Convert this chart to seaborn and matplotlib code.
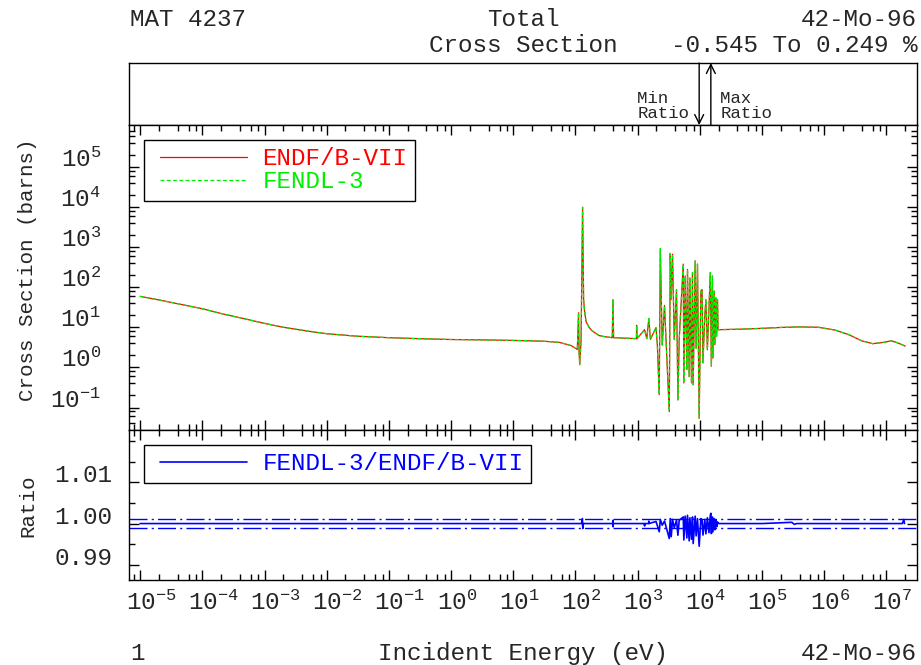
import numpy as np
import pandas as pd
import matplotlib
matplotlib.use("Agg")
import matplotlib.pyplot as plt
import matplotlib.ticker as mticker
import matplotlib.transforms as mtransforms
import seaborn as sns

# values (energy in eV, cross section in barns)
energy = [1e-5, 2e-5, 5e-5, 1e-4, 2e-4, 5e-4, 1e-3, 2e-3, 5e-3, 1e-2, 3e-2,
          0.1, 0.3, 1.0, 3.0, 10.0, 30.0, 55.0, 85.0, 107.0, 112.0, 114.0,
          117.0, 123.0, 130.0, 135.0, 140.0, 148.0, 165.0, 182.0, 240.0, 300.0,
          390.0, 400.0, 410.0, 955.0, 960.0, 975.0, 1290.0, 1400.0, 1510.0,
          1600.0, 1970.0, 2070.0, 2220.0, 2310.0, 2480.0, 2700.0, 2880.0,
          3220.0, 3340.0, 3460.0, 3630.0, 3870.0, 4210.0, 4430.0, 4650.0,
          5400.0, 5520.0, 5800.0, 6180.0, 6320.0, 6730.0, 6910.0, 7330.0,
          7600.0, 7800.0, 8400.0, 8700.0, 9150.0, 9740.0, 10370.0, 10850.0,
          11200.0, 12000.0, 12500.0, 13200.0, 14000.0, 14700.0, 15300.0,
          15900.0, 16200.0, 17000.0, 17400.0, 18100.0, 18600.0, 19200.0,
          19600.0, 2e4, 5e4, 1e5, 2e5, 4e5, 8e5, 1.5e6, 2.5e6, 4e6, 6e6,
          9e6, 1.2e7, 1.5e7, 2e7]
endf_xs = [59.0, 48.0, 36.0, 29.0, 22.0, 16.0, 12.5, 10.0, 8.0, 6.9, 6.0,
           5.5, 5.2, 4.95, 4.85, 4.7, 4.5, 4.2, 3.5, 2.8, 23.0, 2.45,
           1.17, 4.9, 9800.0, 49.0, 25.0, 13.8, 10.0, 8.3, 6.2, 5.8,
           5.5, 49.0, 5.5, 5.2, 11.2, 5.2, 8.7, 5.2, 16.6,
           5.0, 9.8, 3.6, 0.21, 910.0, 3.6, 35.0, 3.6,
           0.079, 690.0, 49.0, 660.0, 5.0, 87.0, 0.155, 5.0,
           375.0, 0.41, 190.0, 0.88, 275.0, 0.59, 170.0, 0.41,
           230.0, 0.37, 450.0, 3.0, 375.0, 0.054, 80.0, 87.0,
           1.3, 20.0, 49.0, 2.75, 30.0, 230.0, 1.07,
           190.0, 1.7, 80.0, 3.7, 54.0, 6.0, 49.0,
           8.7, 8.7, 9.0, 9.4, 9.9, 10.2, 10.0, 8.5, 6.5, 4.6, 3.9,
           4.2, 4.6, 4.1, 3.4]
# FENDL-3 lies on top of ENDF/B-VII everywhere at this scale
fendl_xs = list(endf_xs)

ratio_energy = [1e-5, 125.0, 129.0, 131.0, 134.0, 398.0, 400.0, 402.0, 405.0,
                1280.0, 1290.0, 1300.0, 1500.0, 1510.0, 1520.0, 1970.0, 2070.0,
                2220.0, 2310.0, 2480.0, 2700.0, 3220.0, 3340.0, 3460.0, 3630.0,
                3870.0, 4210.0, 4430.0, 4650.0, 5400.0, 5520.0, 5800.0, 6180.0,
                6320.0, 6730.0, 6910.0, 7330.0, 7600.0, 7800.0, 8400.0, 8700.0,
                9150.0, 9740.0, 10370.0, 10850.0, 11200.0, 12000.0, 12500.0,
                13200.0, 14000.0, 14700.0, 15000.0, 15300.0, 15900.0, 16200.0,
                17000.0, 17400.0, 18100.0, 18600.0, 19200.0, 2e4, 1e5, 3e5,
                3.3e5, 3.6e5, 1.8e7, 1.9e7, 1.95e7]
ratio = [1.0, 1.0, 1.0012, 0.9988, 1.0, 1.0, 1.0008, 0.9992, 1.0,
         1.0, 0.9994, 1.0, 1.0, 1.0006, 1.0, 1.0005, 0.9995,
         0.9980, 1.0010, 0.9996, 1.0006, 0.99636, 1.0012, 0.9968, 1.0010,
         0.9990, 1.0008, 0.99716, 1.0008, 1.0016, 0.9960, 1.0018, 0.9965,
         1.0020, 0.9958, 1.0014, 0.9962, 1.0016, 0.99515, 1.0018, 0.9970,
         1.0012, 0.99449, 1.0012, 1.0008, 0.9972, 1.0010, 0.9975,
         1.0014, 0.9978, 1.0020, 1.00249, 0.99757, 1.0016, 0.9980,
         1.0012, 0.9985, 1.0008, 0.9992, 1.0004, 1.0, 1.0, 1.0003,
         0.9998, 1.0, 1.0, 1.001, 1.0]
ratio_band = [0.999, 1.001]

xs_df = pd.DataFrame({"E": energy, "ENDF/B-VII": endf_xs, "FENDL-3": fendl_xs})
ratio_df = pd.DataFrame({"E": ratio_energy, "ratio": ratio})

sns.set_style("ticks")
plt.rcParams["font.family"] = ["Liberation Mono", "DejaVu Sans Mono"]
plt.rcParams["font.size"] = 17.5
plt.rcParams["axes.linewidth"] = 1.0

red, green, blue = "#ff0000", "#00ee00", "#0000ff"
fs = 17.5
xlim = (10 ** -5.18, 10 ** 7.49)

fig = plt.figure(figsize=(9.21, 6.65), dpi=100)
ax_top = fig.add_axes([0.140, 0.812, 0.8556, 0.0932])
ax_xs = fig.add_axes([0.140, 0.3534, 0.8556, 0.4586])
ax_r = fig.add_axes([0.140, 0.1278, 0.8556, 0.2256])

for ax in (ax_top, ax_xs, ax_r):
    ax.set_xscale("log")
    ax.set_xlim(*xlim)
    for s in ax.spines.values():
        s.set_color("black")
        s.set_linewidth(1.0)

# top strip: where the min / max ratio occur
ax_top.set_ylim(0, 1)
ax_top.set_xticks([])
ax_top.set_yticks([])
ax_top.minorticks_off()
e_min = ratio_energy[int(np.argmin(ratio))]
e_max = ratio_energy[int(np.argmax(ratio))]
arrow = dict(arrowstyle="->", color="black", lw=1.0, shrinkA=0, shrinkB=0,
             mutation_scale=16)
ax_top.annotate("", xy=(e_min, 0), xytext=(e_min, 1), arrowprops=arrow)
ax_top.annotate("", xy=(e_max, 1), xytext=(e_max, 0), arrowprops=arrow)
ax_top.text(e_min / 1.45, 0.06, "Min  \nRatio", ha="right", va="bottom",
            fontsize=12.5, linespacing=1.0)
ax_top.text(e_max * 1.42, 0.06, "Max  \nRatio", ha="left", va="bottom",
            fontsize=12.5, linespacing=1.0)

# cross sections
ax_xs.set_yscale("log")
sns.lineplot(data=xs_df, x="E", y="ENDF/B-VII", ax=ax_xs, color=red, lw=0.9,
             estimator=None, sort=False, label="ENDF/B-VII")
sns.lineplot(data=xs_df, x="E", y="FENDL-3", ax=ax_xs, color=green, lw=0.9,
             estimator=None, sort=False, label="FENDL-3")
ax_xs.lines[1].set_dashes([3, 2])
ax_xs.set_xlim(*xlim)
ax_xs.set_ylim(10 ** -1.56, 10 ** 6.04)
ax_xs.set_xlabel("")
ax_xs.set_ylabel("")
ax_xs.set_yticks([10.0 ** k for k in range(-1, 6)])
ax_xs.yaxis.set_minor_locator(mticker.LogLocator(base=10, subs=(2, 4, 6, 8), numticks=20))
ax_xs.yaxis.set_major_formatter(mticker.FuncFormatter(
    lambda v, p: r"$\mathregular{10^{%d}}$" % round(np.log10(v))))
ax_xs.yaxis.set_minor_formatter(mticker.NullFormatter())

leg_kw = dict(loc="upper left", frameon=True, fancybox=False, edgecolor="black",
              handlelength=3.95, handletextpad=0.62, labelspacing=0.0,
              borderpad=0.3, borderaxespad=0.62, labelcolor="linecolor", fontsize=fs)
leg = ax_xs.legend(**leg_kw)

# ratio
for band in ratio_band:
    ax_r.axhline(band, color=blue, lw=1.0, dashes=(13, 3, 1.5, 3))
sns.lineplot(data=ratio_df, x="E", y="ratio", ax=ax_r, color=blue, lw=1.2,
             estimator=None, sort=False, label="FENDL-3/ENDF/B-VII")
ax_r.set_xlim(*xlim)
ax_r.set_ylim(0.9863, 1.0227)
ax_r.set_xlabel("")
ax_r.set_ylabel("")
ax_r.yaxis.set_major_locator(mticker.FixedLocator([0.99, 1.00, 1.01]))
ax_r.yaxis.set_minor_locator(mticker.MultipleLocator(0.005))
ax_r.yaxis.set_major_formatter(mticker.FormatStrFormatter("%.2f"))
leg2 = ax_r.legend(**leg_kw)

# legend frames, and start the sample lines a little right of the frame
for lg in (leg, leg2):
    lg.get_frame().set_linewidth(1.0)
    lg.get_frame().set_alpha(1)
    for ln in lg.get_lines():
        xd = list(ln.get_xdata())
        ln.set_xdata([xd[0] + 6.0, xd[-1]])
        ln.set_ydata([ln.get_ydata()[0]] * 2)

for ax in (ax_xs, ax_r):
    ax.set_xticks([10.0 ** k for k in range(-5, 8)])
    ax.xaxis.set_minor_locator(mticker.LogLocator(base=10, subs=(2, 4, 6, 8), numticks=30))
    ax.xaxis.set_minor_formatter(mticker.NullFormatter())
    ax.tick_params(which="both", direction="in", top=True, right=True,
                   color="black", width=1.0, labelsize=fs)
    ax.tick_params(which="major", length=7)
    ax.tick_params(which="minor", length=4)

ax_xs.tick_params(axis="x", labelbottom=False)
ax_xs.tick_params(axis="y", pad=20)
ax_r.tick_params(axis="y", pad=12)
ax_r.tick_params(axis="x", pad=8)
ax_r.xaxis.set_major_formatter(mticker.FuncFormatter(
    lambda v, p: r"$\mathregular{10^{%d}}$" % round(np.log10(v))))

for lab in ax_xs.get_yticklabels() + ax_r.get_yticklabels():
    lab.set_va("baseline")
shift = mtransforms.ScaledTranslation(-10.5 / 72, 0, fig.dpi_scale_trans)
for lab in ax_r.get_xticklabels():
    lab.set_ha("left")
    lab.set_transform(lab.get_transform() + shift)

# header / footer texts
xc = 0.140 + 0.8556 / 2
fig.text(0.141, 0.970, "MAT 4237", ha="left", va="center", fontsize=fs)
fig.text(xc, 0.970, "Total", ha="center", va="center", fontsize=fs)
fig.text(0.9957, 0.970, "42-Mo-96", ha="right", va="center", fontsize=fs)
fig.text(xc, 0.932, "Cross Section", ha="center", va="center", fontsize=fs)
fig.text(0.9957, 0.932, "-0.545 To 0.249 %", ha="right", va="center", fontsize=fs)
fig.text(0.141, 0.018, "1", ha="left", va="center", fontsize=fs)
fig.text(xc, 0.018, "Incident Energy (eV)", ha="center", va="center", fontsize=fs)
fig.text(0.9957, 0.018, "42-Mo-96", ha="right", va="center", fontsize=fs)
fig.text(0.030, 0.594, "Cross Section (barns)", ha="center", va="center",
         rotation=90, fontsize=15)
fig.text(0.030, 0.240, "Ratio", ha="center", va="center", rotation=90, fontsize=15)

fig.savefig("out.png", dpi=100)
